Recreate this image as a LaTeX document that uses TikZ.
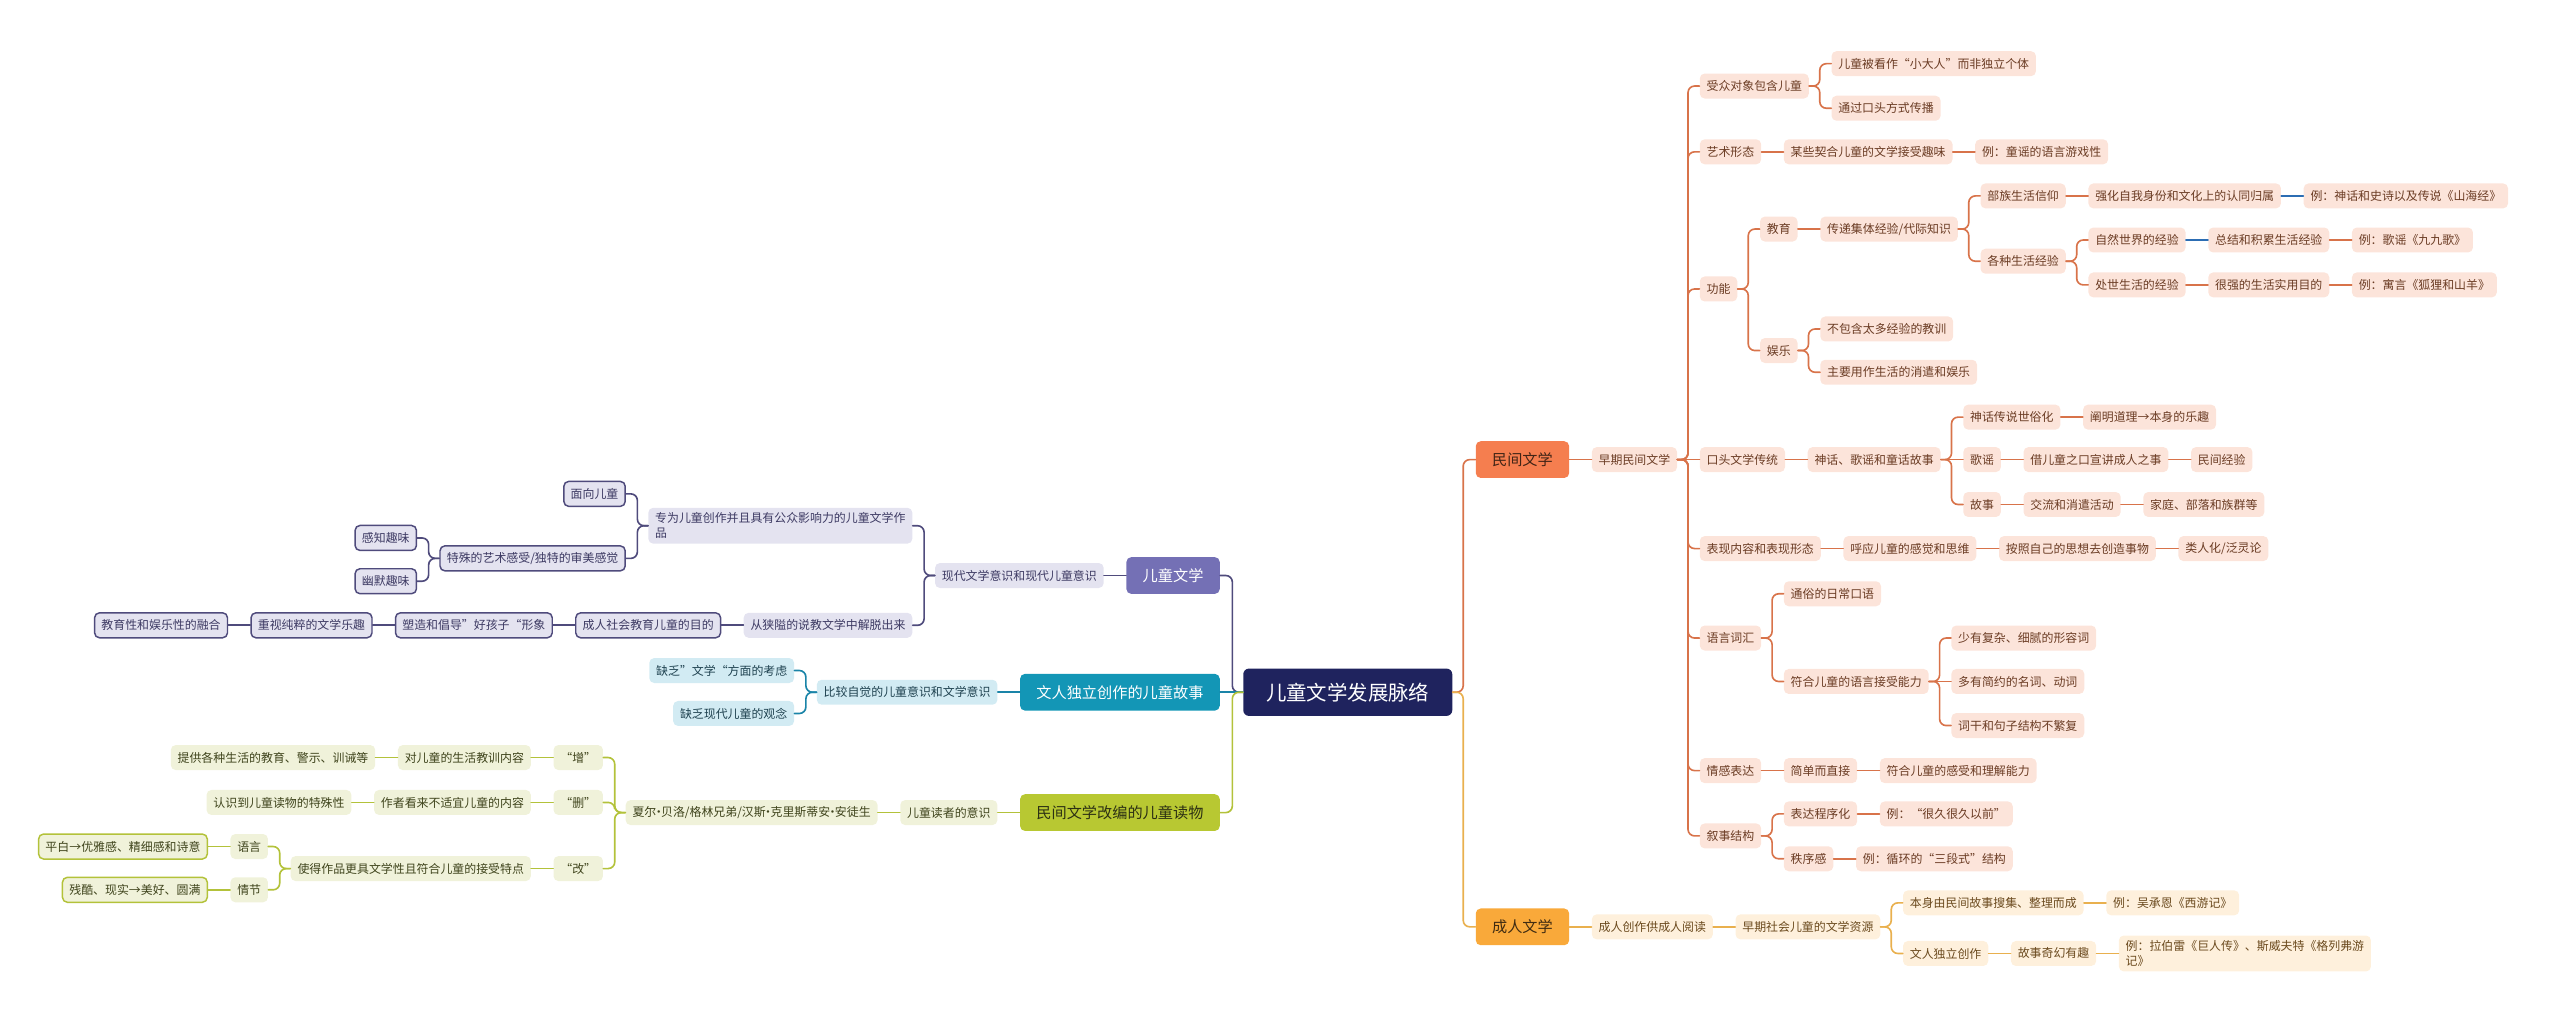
\documentclass[tikz,border=0pt]{standalone}
\usepackage{fontspec}
\setmainfont{Noto Sans CJK SC}
\usetikzlibrary{positioning, calc}
\usepackage{xcolor}
\definecolor{rootblue}{HTML}{1F235E}
\definecolor{etpurple}{HTML}{7470B5}
\definecolor{etfill}{HTML}{E4E3F0}
\definecolor{etline}{HTML}{4F4B7C}
\definecolor{ettext}{HTML}{3D3A63}
\definecolor{wrteal}{HTML}{1396B6}
\definecolor{wrfill}{HTML}{D2EBF3}
\definecolor{wrline}{HTML}{1A84A8}
\definecolor{wrtext}{HTML}{1F4250}
\definecolor{mggreen}{HTML}{B8C832}
\definecolor{mgfill}{HTML}{F0F2DA}
\definecolor{mgline}{HTML}{B3C23A}
\definecolor{mgtext}{HTML}{3F441C}
\definecolor{mjorange}{HTML}{F57E4F}
\definecolor{mjfill}{HTML}{FCE4DA}
\definecolor{mjline}{HTML}{D8734A}
\definecolor{mjtext}{HTML}{6B3C24}
\definecolor{crgold}{HTML}{F9A93A}
\definecolor{crfill}{HTML}{FEF0DC}
\definecolor{crline}{HTML}{E9B04E}
\definecolor{crtext}{HTML}{6B4A1E}
\definecolor{linkblue}{HTML}{2C6DB3}

\newcommand{\mdot}{\makebox[0.4em]{·}}

\tikzset{
  box/.style={rounded corners=3pt, minimum height=15.3pt, inner xsep=4.2pt,
              inner ysep=1.5pt, font=\fontsize{7.3}{9.2}\selectfont},
  topic/.style={rounded corners=3pt, minimum height=22.5pt, inner xsep=10pt,
                font=\fontsize{9.3}{11}\selectfont},
  rootbox/.style={rounded corners=3.5pt, minimum height=29pt, inner xsep=14pt,
                  fill=rootblue, text=white, font=\fontsize{12.5}{14}\selectfont},
  mj/.style={box, fill=mjfill, text=mjtext, anchor=west},
  cr/.style={box, fill=crfill, text=crtext, anchor=west},
  et/.style={box, fill=etfill, text=ettext, anchor=east},
  etb/.style={et, draw=etline, line width=0.9pt},
  wr/.style={box, fill=wrfill, text=wrtext, anchor=east},
  mg/.style={box, fill=mgfill, text=mgtext, anchor=east},
  mgb/.style={mg, draw=mgline, line width=0.9pt},
  link/.style={line width=1pt, rounded corners=4pt},
}

\begin{document}
\begin{tikzpicture}[x=1pt, y=-1pt, line cap=round]
  \useasboundingbox (0,0) rectangle (1568,628);

  \node[rootbox] (root) at (825.5,424) {儿童文学发展脉络};

  % ---- 民间文学 ----
  \node[topic, fill=mjorange, text=mjtext!60!black, anchor=west] (mj1) at ([xshift=14pt]root.east |- 0,281.5) {民间文学};
  \node[mj] (mj2) at ([xshift=13.5pt]mj1.east |- 0,281.5) {早期民间文学};

  \node[mj] (sz)  at ([xshift=13.5pt]mj2.east |- 0,52.7) {受众对象包含儿童};
  \node[mj] (sz1) at ([xshift=13.5pt]sz.east |- 0,39) {儿童被看作“小大人”而非独立个体};
  \node[mj] (sz2) at ([xshift=13.5pt]sz.east |- 0,66.3) {通过口头方式传播};

  \node[mj] (ys)  at ([xshift=13.5pt]mj2.east |- 0,93) {艺术形态};
  \node[mj] (ys1) at ([xshift=13.5pt]ys.east |- 0,93) {某些契合儿童的文学接受趣味};
  \node[mj] (ys2) at ([xshift=13.5pt]ys1.east |- 0,93) {例：童谣的语言游戏性};

  \node[mj] (gn)  at ([xshift=13.5pt]mj2.east |- 0,177) {功能};
  \node[mj] (jy)  at ([xshift=13.5pt]gn.east |- 0,140.3) {教育};
  \node[mj] (jy1) at ([xshift=13.5pt]jy.east |- 0,140.3) {传递集体经验/代际知识};
  \node[mj] (bz)  at ([xshift=13.5pt]jy1.east |- 0,120) {部族生活信仰};
  \node[mj] (bz1) at ([xshift=13.5pt]bz.east |- 0,120) {强化自我身份和文化上的认同归属};
  \node[mj] (bz2) at ([xshift=13.5pt]bz1.east |- 0,120) {例：神话和史诗以及传说《山海经》};
  \node[mj] (gz)  at ([xshift=13.5pt]jy1.east |- 0,160) {各种生活经验};
  \node[mj] (zr)  at ([xshift=13.5pt]gz.east |- 0,147) {自然世界的经验};
  \node[mj] (zr1) at ([xshift=13.5pt]zr.east |- 0,147) {总结和积累生活经验};
  \node[mj] (zr2) at ([xshift=13.5pt]zr1.east |- 0,147) {例：歌谣《九九歌》};
  \node[mj] (cs)  at ([xshift=13.5pt]gz.east |- 0,174.5) {处世生活的经验};
  \node[mj] (cs1) at ([xshift=13.5pt]cs.east |- 0,174.5) {很强的生活实用目的};
  \node[mj] (cs2) at ([xshift=13.5pt]cs1.east |- 0,174.5) {例：寓言《狐狸和山羊》};
  \node[mj] (yl)  at ([xshift=13.5pt]gn.east |- 0,214.7) {娱乐};
  \node[mj] (yl1) at ([xshift=13.5pt]yl.east |- 0,201.5) {不包含太多经验的教训};
  \node[mj] (yl2) at ([xshift=13.5pt]yl.east |- 0,228) {主要用作生活的消遣和娱乐};

  \node[mj] (kt)  at ([xshift=13.5pt]mj2.east |- 0,281.5) {口头文学传统};
  \node[mj] (kt1) at ([xshift=13.5pt]kt.east |- 0,281.5) {神话、歌谣和童话故事};
  \node[mj] (sh)  at ([xshift=13.5pt]kt1.east |- 0,255.5) {神话传说世俗化};
  \node[mj] (sh1) at ([xshift=13.5pt]sh.east |- 0,255.5) {阐明道理→本身的乐趣};
  \node[mj] (gy)  at ([xshift=13.5pt]kt1.east |- 0,281.5) {歌谣};
  \node[mj] (gy1) at ([xshift=13.5pt]gy.east |- 0,281.5) {借儿童之口宣讲成人之事};
  \node[mj] (gy2) at ([xshift=13.5pt]gy1.east |- 0,281.5) {民间经验};
  \node[mj] (gs)  at ([xshift=13.5pt]kt1.east |- 0,309) {故事};
  \node[mj] (gs1) at ([xshift=13.5pt]gs.east |- 0,309) {交流和消遣活动};
  \node[mj] (gs2) at ([xshift=13.5pt]gs1.east |- 0,309) {家庭、部落和族群等};

  \node[mj] (bx)  at ([xshift=13.5pt]mj2.east |- 0,336) {表现内容和表现形态};
  \node[mj] (bx1) at ([xshift=13.5pt]bx.east |- 0,336) {呼应儿童的感觉和思维};
  \node[mj] (bx2) at ([xshift=13.5pt]bx1.east |- 0,336) {按照自己的思想去创造事物};
  \node[mj] (bx3) at ([xshift=13.5pt]bx2.east |- 0,336) {类人化/泛灵论};

  \node[mj] (yy)  at ([xshift=13.5pt]mj2.east |- 0,390.8) {语言词汇};
  \node[mj] (yy1) at ([xshift=13.5pt]yy.east |- 0,363.7) {通俗的日常口语};
  \node[mj] (yy2) at ([xshift=13.5pt]yy.east |- 0,417.4) {符合儿童的语言接受能力};
  \node[mj] (yy3) at ([xshift=13.5pt]yy2.east |- 0,390.8) {少有复杂、细腻的形容词};
  \node[mj] (yy4) at ([xshift=13.5pt]yy2.east |- 0,417.4) {多有简约的名词、动词};
  \node[mj] (yy5) at ([xshift=13.5pt]yy2.east |- 0,444.4) {词干和句子结构不繁复};

  \node[mj] (qg)  at ([xshift=13.5pt]mj2.east |- 0,472) {情感表达};
  \node[mj] (qg1) at ([xshift=13.5pt]qg.east |- 0,472) {简单而直接};
  \node[mj] (qg2) at ([xshift=13.5pt]qg1.east |- 0,472) {符合儿童的感受和理解能力};

  \node[mj] (xs)  at ([xshift=13.5pt]mj2.east |- 0,512) {叙事结构};
  \node[mj] (xs1) at ([xshift=13.5pt]xs.east |- 0,498.5) {表达程序化};
  \node[mj] (xs2) at ([xshift=13.5pt]xs1.east |- 0,498.5) {例：“很久很久以前”};
  \node[mj] (xs3) at ([xshift=13.5pt]xs.east |- 0,526) {秩序感};
  \node[mj] (xs4) at ([xshift=13.5pt]xs3.east |- 0,526) {例：循环的“三段式”结构};

  % ---- 成人文学 ----
  \node[topic, fill=crgold, text=crtext!60!black, anchor=west] (cr1) at ([xshift=14pt]root.east |- 0,567.7) {成人文学};
  \node[cr] (cr2) at ([xshift=13.5pt]cr1.east |- 0,567.7) {成人创作供成人阅读};
  \node[cr] (cr3) at ([xshift=13.5pt]cr2.east |- 0,567.7) {早期社会儿童的文学资源};
  \node[cr] (cr4) at ([xshift=13.5pt]cr3.east |- 0,553) {本身由民间故事搜集、整理而成};
  \node[cr] (cr5) at ([xshift=13.5pt]cr4.east |- 0,553) {例：吴承恩《西游记》};
  \node[cr] (cr6) at ([xshift=13.5pt]cr3.east |- 0,584) {文人独立创作};
  \node[cr] (cr7) at ([xshift=13.5pt]cr6.east |- 0,584) {故事奇幻有趣};
  \node[cr, align=left, inner ysep=3pt] (cr8) at ([xshift=13.5pt]cr7.east |- 0,584)
    {例：拉伯雷《巨人传》、斯威夫特《格列弗游\\记》};

  % ---- 儿童文学 ----
  \node[topic, fill=etpurple, text=white, anchor=east] (et1) at ([xshift=-14pt]root.west |- 0,352.5) {儿童文学};
  \node[et] (et2) at ([xshift=-13.5pt]et1.west |- 0,352.5) {现代文学意识和现代儿童意识};
  \node[et, align=left, inner ysep=3pt] (et3) at ([xshift=-13.5pt]et2.west |- 0,322)
    {专为儿童创作并且具有公众影响力的儿童文学作\\品};
  \node[etb] (et4) at ([xshift=-13.5pt]et3.west |- 0,302.5) {面向儿童};
  \node[etb] (et5) at ([xshift=-13.5pt]et3.west |- 0,342) {特殊的艺术感受/独特的审美感觉};
  \node[etb] (et6) at ([xshift=-13.5pt]et5.west |- 0,329.5) {感知趣味};
  \node[etb] (et7) at ([xshift=-13.5pt]et5.west |- 0,356) {幽默趣味};
  \node[et] (et8) at ([xshift=-13.5pt]et2.west |- 0,383) {从狭隘的说教文学中解脱出来};
  \node[etb] (et9) at ([xshift=-13.5pt]et8.west |- 0,383) {成人社会教育儿童的目的};
  \node[etb] (et10) at ([xshift=-13.5pt]et9.west |- 0,383) {塑造和倡导”好孩子“形象};
  \node[etb] (et11) at ([xshift=-13.5pt]et10.west |- 0,383) {重视纯粹的文学乐趣};
  \node[etb] (et12) at ([xshift=-13.5pt]et11.west |- 0,383) {教育性和娱乐性的融合};

  % ---- 文人独立创作的儿童故事 ----
  \node[topic, fill=wrteal, text=white, anchor=east] (wr1) at ([xshift=-14pt]root.west |- 0,424) {文人独立创作的儿童故事};
  \node[wr] (wr2) at ([xshift=-13.5pt]wr1.west |- 0,424) {比较自觉的儿童意识和文学意识};
  \node[wr] (wr3) at ([xshift=-13.5pt]wr2.west |- 0,410.7) {缺乏”文学“方面的考虑};
  \node[wr] (wr4) at ([xshift=-13.5pt]wr2.west |- 0,437) {缺乏现代儿童的观念};

  % ---- 民间文学改编的儿童读物 ----
  \node[topic, fill=mggreen, text=mgtext!70!black, anchor=east] (mg1) at ([xshift=-14pt]root.west |- 0,497.7) {民间文学改编的儿童读物};
  \node[mg] (mg2) at ([xshift=-13.5pt]mg1.west |- 0,497.7) {儿童读者的意识};
  \node[mg] (mg3) at ([xshift=-13.5pt]mg2.west |- 0,497.7) {夏尔\mdot 贝洛/格林兄弟/汉斯\mdot 克里斯蒂安\mdot 安徒生};
  \node[mg] (mg4) at ([xshift=-13.5pt]mg3.west |- 0,464) {“增”};
  \node[mg] (mg5) at ([xshift=-13.5pt]mg4.west |- 0,464) {对儿童的生活教训内容};
  \node[mg] (mg6) at ([xshift=-13.5pt]mg5.west |- 0,464) {提供各种生活的教育、警示、训诫等};
  \node[mg] (mg7) at ([xshift=-13.5pt]mg3.west |- 0,491.5) {“删”};
  \node[mg] (mg8) at ([xshift=-13.5pt]mg7.west |- 0,491.5) {作者看来不适宜儿童的内容};
  \node[mg] (mg9) at ([xshift=-13.5pt]mg8.west |- 0,491.5) {认识到儿童读物的特殊性};
  \node[mg] (mg10) at ([xshift=-13.5pt]mg3.west |- 0,532) {“改”};
  \node[mg] (mg11) at ([xshift=-13.5pt]mg10.west |- 0,532) {使得作品更具文学性且符合儿童的接受特点};
  \node[mg] (mg12) at ([xshift=-13.5pt]mg11.west |- 0,518.5) {语言};
  \node[mgb] (mg13) at ([xshift=-13.5pt]mg12.west |- 0,518.5) {平白→优雅感、精细感和诗意};
  \node[mg] (mg14) at ([xshift=-13.5pt]mg11.west |- 0,545) {情节};
  \node[mgb] (mg15) at ([xshift=-13.5pt]mg14.west |- 0,545) {残酷、现实→美好、圆满};

  % connectors, right side
  \draw[link, mjline] (root.east) -- ++(6.5,0) |- (mj1.west);
  \draw[link, crline] (root.east) -- ++(6.5,0) |- (cr1.west);
  \foreach \a/\b in {mj1/mj2, mj2/kt, ys/ys1, ys1/ys2, jy/jy1, bz/bz1, zr1/zr2,
                     cs/cs1, cs1/cs2, kt/kt1, kt1/gy, gy/gy1, gy1/gy2, sh/sh1,
                     gs/gs1, gs1/gs2, bx/bx1, bx1/bx2, bx2/bx3, yy2/yy4, qg/qg1,
                     qg1/qg2, xs1/xs2, xs3/xs4}
    \draw[link, mjline] (\a.east) -- (\b.west);
  \foreach \a/\b in {mj2/sz, mj2/ys, mj2/gn, mj2/bx, mj2/yy, mj2/qg, mj2/xs,
                     sz/sz1, sz/sz2, gn/jy, gn/yl, jy1/bz, jy1/gz, gz/zr, gz/cs,
                     yl/yl1, yl/yl2, kt1/sh, kt1/gs, yy/yy1, yy/yy2, yy2/yy3,
                     yy2/yy5, xs/xs1, xs/xs3}
    \draw[link, mjline] (\a.east) -- ++(6.5,0) |- (\b.west);
  \foreach \a/\b in {bz1/bz2, zr/zr1}
    \draw[link, linkblue] (\a.east) -- (\b.west);
  \foreach \a/\b in {cr1/cr2, cr2/cr3, cr4/cr5, cr6/cr7, cr7/cr8}
    \draw[link, crline] (\a.east) -- (\b.west);
  \foreach \a/\b in {cr3/cr4, cr3/cr6}
    \draw[link, crline] (\a.east) -- ++(6.5,0) |- (\b.west);

  % connectors, left side
  \draw[link, etline] (root.west) -- ++(-6.5,0) |- (et1.east);
  \draw[link, wrline] (root.west) -- (wr1.east);
  \draw[link, mgline] (root.west) -- ++(-6.5,0) |- (mg1.east);
  \foreach \a/\b in {et1/et2, et8/et9, et9/et10, et10/et11, et11/et12}
    \draw[link, etline] (\a.west) -- (\b.east);
  \foreach \a/\b in {et2/et3, et2/et8, et3/et4, et3/et5, et5/et6, et5/et7}
    \draw[link, etline] (\a.west) -- ++(-6.5,0) |- (\b.east);
  \draw[link, wrline] (wr1.west) -- (wr2.east);
  \foreach \b in {wr3, wr4}
    \draw[link, wrline] (wr2.west) -- ++(-6.5,0) |- (\b.east);
  \foreach \a/\b in {mg1/mg2, mg2/mg3, mg4/mg5, mg5/mg6, mg7/mg8, mg8/mg9,
                     mg10/mg11, mg12/mg13, mg14/mg15}
    \draw[link, mgline] (\a.west) -- (\b.east);
  \foreach \a/\b in {mg3/mg4, mg3/mg7, mg3/mg10, mg11/mg12, mg11/mg14}
    \draw[link, mgline] (\a.west) -- ++(-6.5,0) |- (\b.east);
\end{tikzpicture}
\end{document}
